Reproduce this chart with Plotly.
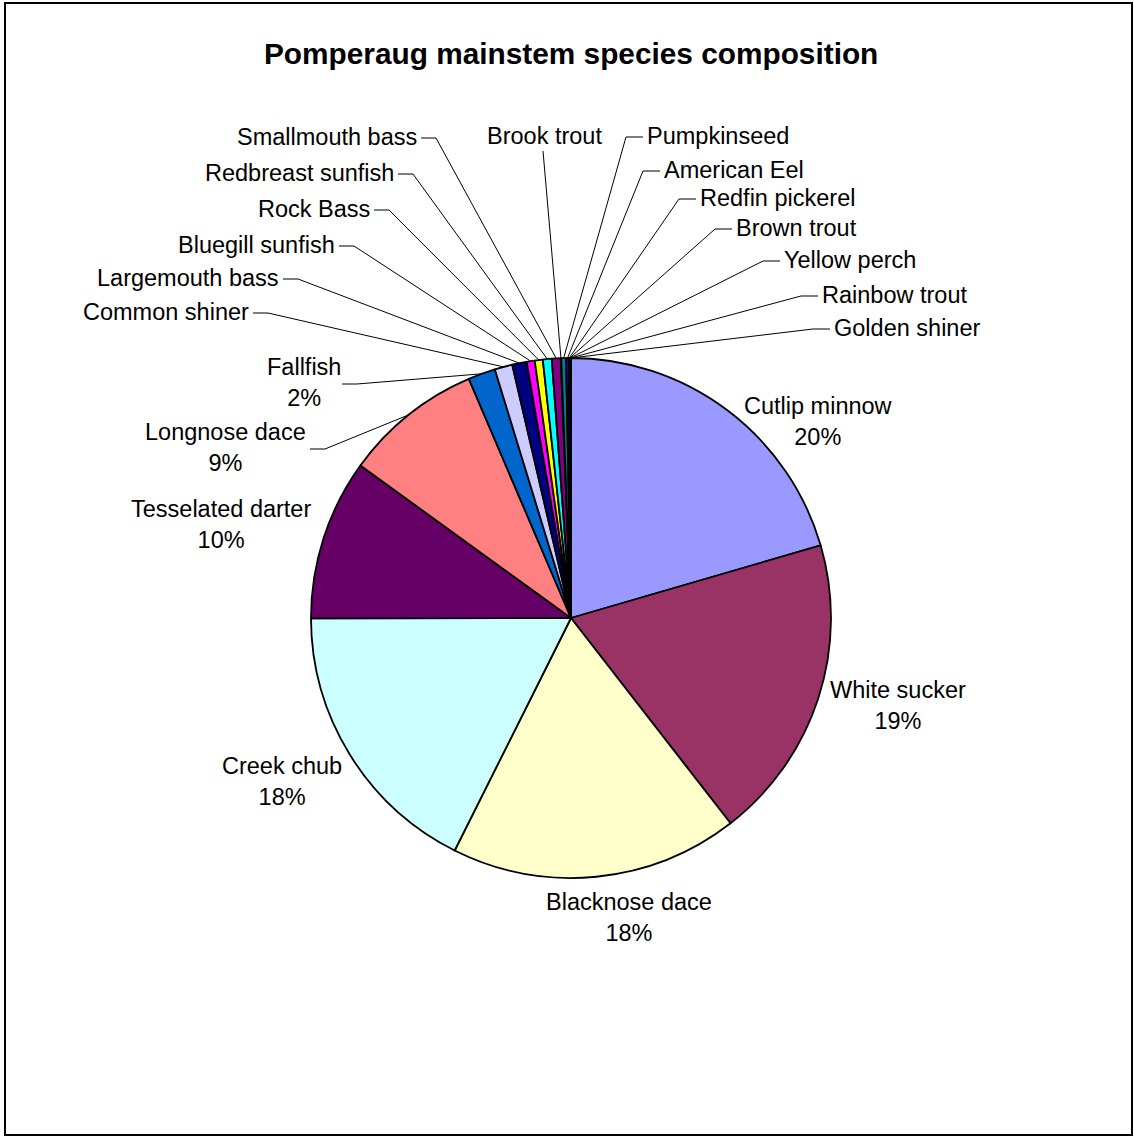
import numpy as np
import plotly.graph_objects as go

# ---------------- data ----------------
species = ["Cutlip minnow", "White sucker", "Blacknose dace", "Creek chub",
           "Tesselated darter", "Longnose dace", "Fallfish", "Common shiner",
           "Largemouth bass", "Bluegill sunfish", "Rock Bass", "Redbreast sunfish",
           "Smallmouth bass", "Brook trout", "Pumpkinseed", "American Eel",
           "Redfin pickerel", "Brown trout", "Yellow perch", "Rainbow trout",
           "Golden shiner"]
values = [20.5, 19.0, 17.9, 17.6, 10.0, 8.6, 1.7, 1.1,
          0.9, 0.5, 0.5, 0.55, 0.55, 0.03, 0.3, 0.18,
          0.03, 0.03, 0.02, 0.02, 0.02]
colors = ["#9999FF", "#993366", "#FFFFCC", "#CCFFFF", "#660066", "#FF8080",
          "#0066CC", "#CCCCFF", "#000080", "#FF00FF", "#FFFF00", "#00FFFF",
          "#800080", "#800000", "#008080", "#0000FF", "#00CCFF", "#CCFFFF",
          "#CCFFCC", "#FFFF99", "#99CCFF"]
title = "Pomperaug mainstem species composition"

# ---------------- layout / style ----------------
W, H = 1134, 1137
CX, CY, R = 571, 618, 260
FONT = "Liberation Sans, Arial, sans-serif"
FS = 23.5

# label placement (pixels): kind, x, y, leader elbow (or None)
label_layout = {
    "Cutlip minnow": ("c", 818, 421, None),
    "White sucker": ("c", 898, 705, None),
    "Blacknose dace": ("c", 629, 917, None),
    "Creek chub": ("c", 282, 781, None),
    "Tesselated darter": ("c", 221, 524, None),
    "Longnose dace": ("c", 225, 447, (310, 449, 325)),
    "Fallfish": ("c", 304, 382, (342, 384, 357)),
    "Common shiner": ("l", 251, 312, None),
    "Largemouth bass": ("l", 281, 278, None),
    "Bluegill sunfish": ("l", 337, 245, None),
    "Rock Bass": ("l", 372, 209, None),
    "Redbreast sunfish": ("l", 396, 173, None),
    "Smallmouth bass": ("l", 419, 137, None),
    "Brook trout": ("b", 544, 136, None),
    "Pumpkinseed": ("r", 645, 136, None),
    "American Eel": ("r", 662, 170, None),
    "Redfin pickerel": ("r", 698, 198, None),
    "Brown trout": ("r", 734, 228, None),
    "Yellow perch": ("r", 782, 260, None),
    "Rainbow trout": ("r", 820, 295, None),
    "Golden shiner": ("r", 832, 328, None),
}

vals = np.array(values, dtype=float)
total = vals.sum()
cum = np.concatenate([[0], np.cumsum(vals)[:-1]])
theta = 2 * np.pi * (cum + vals / 2) / total
edge_x = CX + R * np.sin(theta)
edge_y = CY - R * np.cos(theta)

fig = go.Figure()
fig.add_trace(go.Pie(
    labels=species, values=values, sort=False, direction="clockwise",
    rotation=0, textinfo="none", hoverinfo="label+percent",
    marker=dict(colors=colors, line=dict(color="black", width=1.8)),
    domain=dict(x=[(CX - R) / W, (CX + R) / W],
                y=[1 - (CY + R) / H, 1 - (CY - R) / H]),
    showlegend=False,
))

lx, ly = [], []
annotations = []
for i, name in enumerate(species):
    kind, x, y, elbow = label_layout[name]
    pct = int(round(vals[i] / total * 100))
    if kind == "c":
        annotations.append(dict(x=x, y=y, xref="x", yref="y", text=f"{name}<br>{pct}%",
                                showarrow=False, xanchor="center", yanchor="middle",
                                align="center", font=dict(family=FONT, size=FS, color="black")))
        if elbow is not None:
            ex, ey, ex2 = elbow
            lx += [ex, ex2, edge_x[i], None]
            ly += [ey, ey, edge_y[i], None]
    elif kind == "l":
        annotations.append(dict(x=x, y=y, xref="x", yref="y", text=name, showarrow=False,
                                xanchor="right", yanchor="middle",
                                font=dict(family=FONT, size=FS, color="black")))
        lx += [x + 2, x + 17, edge_x[i], None]
        ly += [y + 1, y + 1, edge_y[i], None]
    elif kind == "r":
        annotations.append(dict(x=x, y=y, xref="x", yref="y", text=name, showarrow=False,
                                xanchor="left", yanchor="middle",
                                font=dict(family=FONT, size=FS, color="black")))
        lx += [x - 2, x - 19, edge_x[i], None]
        ly += [y + 1, y + 1, edge_y[i], None]
    else:  # label above, leader from below
        annotations.append(dict(x=x, y=y, xref="x", yref="y", text=name, showarrow=False,
                                xanchor="center", yanchor="middle",
                                font=dict(family=FONT, size=FS, color="black")))
        lx += [x - 1, edge_x[i], None]
        ly += [y + 15, edge_y[i], None]

fig.add_trace(go.Scatter(x=lx, y=ly, mode="lines", line=dict(color="black", width=1),
                         hoverinfo="skip", showlegend=False))

annotations.append(dict(x=571, y=53, xref="x", yref="y", text=f"<b>{title}</b>",
                        showarrow=False, xanchor="center", yanchor="middle",
                        font=dict(family=FONT, size=29.8, color="black")))

fig.update_layout(
    width=W, height=H, margin=dict(l=0, r=0, t=0, b=0),
    paper_bgcolor="white", plot_bgcolor="rgba(0,0,0,0)",
    xaxis=dict(range=[0, W], visible=False, fixedrange=True),
    yaxis=dict(range=[H, 0], visible=False, fixedrange=True),
    annotations=annotations,
    shapes=[dict(type="rect", xref="x", yref="y", x0=5, y0=3, x1=1132, y1=1135,
                 line=dict(color="black", width=2), fillcolor="rgba(0,0,0,0)")],
)

fig.write_html("out.html")
